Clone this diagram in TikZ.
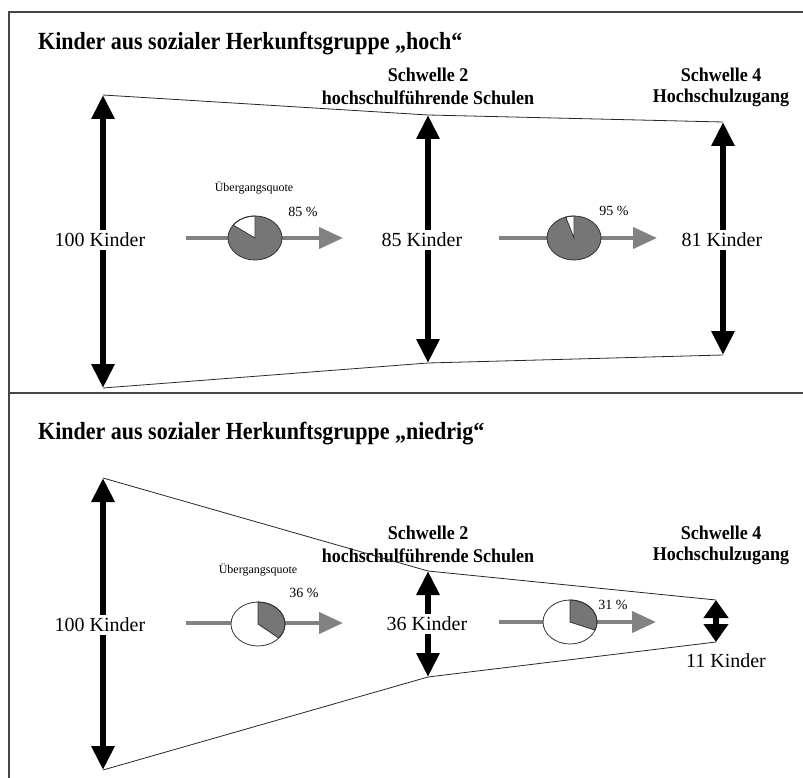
\documentclass[tikz,border=0pt]{standalone}
\usepackage{fontspec}
\usepackage{graphicx}
\setmainfont{Liberation Serif}
\usetikzlibrary{arrows.meta}
\definecolor{arrgray}{RGB}{130,130,130}
\definecolor{piegray}{RGB}{118,118,118}
\definecolor{framegray}{RGB}{70,70,70}
\newcommand{\ttlstretch}[1]{\scalebox{1}[1.12]{#1}}
\newcommand{\lblstretch}[1]{\scalebox{1}[1.08]{#1}}
\newcommand{\mypie}[5]{%
  \fill[#2] (#1) ellipse[x radius=27pt,y radius=22pt];
  \filldraw[fill=#3, pieout] (#1) -- ++(#4:27pt and 22pt) arc[start angle=#4,end angle=#5,x radius=27pt,y radius=22pt] -- cycle;
  \draw[pieout] (#1) ellipse[x radius=27pt,y radius=22pt];
}
\tikzset{
  ttl/.style={anchor=base west, inner sep=0pt, font=\fontsize{22}{26}\selectfont\bfseries},
  lbl/.style={inner sep=0pt, font=\fontsize{18}{23}\selectfont\bfseries},
  kid/.style={inner sep=3pt, font=\fontsize{20}{24}\selectfont},
  smalltxt/.style={inner sep=0pt, font=\fontsize{12}{14}\selectfont},
  pct/.style={inner sep=0pt, font=\fontsize{14}{16}\selectfont},
  big/.style={line width=6pt, -{Triangle[length=24pt,width=22pt]}},
  tiny/.style={line width=6pt, -{Triangle[length=18pt,width=24pt]}},
  flow/.style={arrgray, line width=4pt, -{Triangle[length=24pt,width=21pt]}},
  funnel/.style={line width=0.8pt, black!85},
  frame/.style={line width=1.5pt, framegray},
  pieout/.style={draw=black!80, line width=0.8pt},
}
\begin{document}
\begin{tikzpicture}[x=1pt,y=-1pt]
\useasboundingbox (0,0) rectangle (803,778);
% frame
\draw[frame] (9,778) -- (9,12) -- (803,12);
\draw[frame] (9,393) -- (803,393);

% ================= top panel =================
\node[ttl] (title1) at (38,50) {\ttlstretch{Kinder aus sozialer Herkunftsgruppe „hoch“}};
\node[lbl] (s2a) at (428,75) {\lblstretch{Schwelle 2}};
\node[lbl] (h2a) at (428,98) {\lblstretch{hochschulführende Schulen}};
\node[lbl] (s4a) at (721,75) {\lblstretch{Schwelle 4}};
\node[lbl] (h4a) at (721,98) {\lblstretch{Hochschulzugang}};

\coordinate (t1) at (103,95);
\coordinate (b1) at (103,388);
\coordinate (t2) at (428,115);
\coordinate (b2) at (428,363);
\coordinate (t3) at (723,122);
\coordinate (b3) at (723,355);

\node[kid] (k1) at (100,240) {100 Kinder};
\node[kid] (k2) at (422,240) {85 Kinder};
\node[kid] (k3) at (722,240) {81 Kinder};

\draw[funnel] (t1) -- (t2) -- (t3);
\draw[funnel] (b1) -- (b2) -- (b3);

\draw[big] (k1.north -| t1) -- (t1);
\draw[big] (k1.south -| b1) -- (b1);
\draw[big] (k2.north -| t2) -- (t2);
\draw[big] (k2.south -| b2) -- (b2);
\draw[big] (k3.north -| t3) -- (t3);
\draw[big] (k3.south -| b3) -- (b3);

\coordinate (f1s) at (186,238);
\coordinate (f1e) at (343,238);
\coordinate (f2s) at (499,238);
\coordinate (f2e) at (657,238);
\draw[flow] (f1s) -- (f1e);
\draw[flow] (f2s) -- (f2e);
\coordinate (p1) at (255,238);
\coordinate (p2) at (574,238);
\mypie{p1}{piegray}{white}{90}{144}
\mypie{p2}{piegray}{white}{90}{108}

\node[smalltxt] (u1) at (254,188) {Übergangsquote};
\node[pct] (q1) at (303,212) {85 \%};
\node[pct] (q2) at (614,211) {95 \%};

% ================= bottom panel =================
\node[ttl] (title2) at (38,439) {\ttlstretch{Kinder aus sozialer Herkunftsgruppe „niedrig“}};
\node[lbl] (s2b) at (428,533) {\lblstretch{Schwelle 2}};
\node[lbl] (h2b) at (428,556) {\lblstretch{hochschulführende Schulen}};
\node[lbl] (s4b) at (721,533) {\lblstretch{Schwelle 4}};
\node[lbl] (h4b) at (721,556) {\lblstretch{Hochschulzugang}};

\coordinate (t4) at (103,478);
\coordinate (b4) at (103,770);
\coordinate (t5) at (428,571);
\coordinate (b5) at (428,677);
\coordinate (t6) at (716,600);
\coordinate (b6) at (716,642);
\coordinate (m6) at (716,621);

\node[kid] (k4) at (100,625) {100 Kinder};
\node[kid] (k5) at (427,624) {36 Kinder};
\node[kid] (k6) at (726,661) {11 Kinder};

\draw[funnel] (t4) -- (t5) -- (t6);
\draw[funnel] (b4) -- (b5) -- (b6);

\draw[big] (k4.north -| t4) -- (t4);
\draw[big] (k4.south -| b4) -- (b4);
\draw[big] (k5.north -| t5) -- (t5);
\draw[big] (k5.south -| b5) -- (b5);
\draw[tiny] ([yshift=-1.5pt]m6) -- (t6);
\draw[tiny] ([yshift=1.5pt]m6) -- (b6);

\coordinate (f3s) at (186,623);
\coordinate (f3e) at (343,623);
\coordinate (f4s) at (499,622);
\coordinate (f4e) at (656,622);
\draw[flow] (f3s) -- (f3e);
\draw[flow] (f4s) -- (f4e);
\coordinate (p3) at (258,624);
\coordinate (p4) at (570,622);
\mypie{p3}{white}{piegray}{90}{-39.6}
\mypie{p4}{white}{piegray}{90}{-21.6}

\node[smalltxt] (u2) at (258,570) {Übergangsquote};
\node[pct] (q3) at (304,593) {36 \%};
\node[pct] (q4) at (613,605) {31 \%};
\end{tikzpicture}
\end{document}
